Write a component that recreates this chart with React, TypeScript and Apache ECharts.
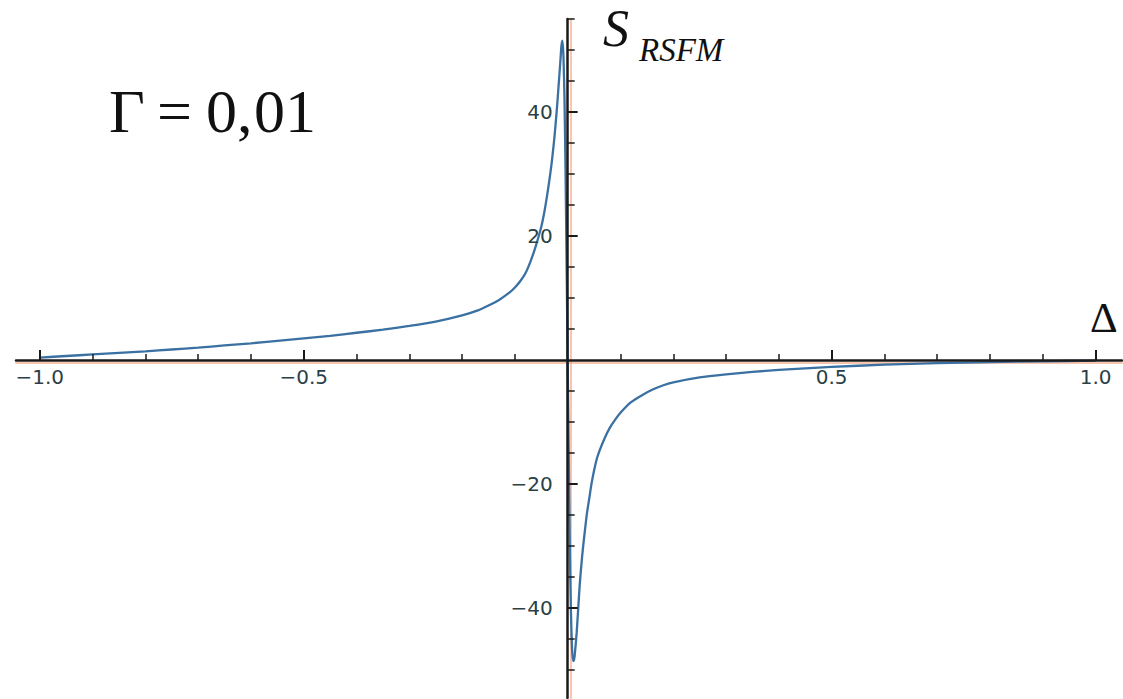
import React, { useEffect, useRef } from "react";
import * as echarts from "echarts";

// Detuning Δ and response S_RSFM for Γ = 0,01
const deltaLeft = [
  -1.0, -0.95, -0.9, -0.85, -0.8, -0.75, -0.7, -0.65, -0.6, -0.55, -0.5, -0.45,
  -0.4, -0.35, -0.3, -0.25, -0.2, -0.17, -0.15, -0.13, -0.11, -0.1, -0.09, -0.08,
  -0.07, -0.06, -0.05, -0.045, -0.04, -0.035, -0.03, -0.025, -0.02, -0.017,
  -0.014, -0.012, -0.01, -0.008, -0.006, -0.004, -0.002, 0,
];
const sLeft = [
  0.4, 0.65, 0.9, 1.15, 1.4, 1.7, 2.0, 2.35, 2.7, 3.1, 3.5, 3.9,
  4.4, 4.9, 5.5, 6.2, 7.2, 8.0, 8.8, 9.7, 10.9, 11.7, 12.7, 14.0,
  16.0, 18.5, 21.5, 23.5, 26, 28.8, 32, 36, 41, 44.5,
  48, 50.5, 51.5, 49, 42, 30, 15, 0,
];
const deltaRight = [
  0.002, 0.004, 0.006, 0.008, 0.01, 0.012, 0.014, 0.017, 0.02, 0.023, 0.027,
  0.03, 0.036, 0.04, 0.045, 0.05, 0.055, 0.06, 0.07, 0.08, 0.09, 0.1, 0.12,
  0.14, 0.16, 0.18, 0.2, 0.25, 0.3, 0.35, 0.4, 0.45, 0.5, 0.6, 0.7, 0.8, 0.9, 1.0,
];
const sRight = [
  -15, -30, -40, -46, -48.5, -48.5, -47, -44, -40, -36, -32,
  -29.5, -25, -22.8, -20, -17.8, -16, -14.7, -12.6, -10.9, -9.6, -8.5, -6.8,
  -5.7, -4.8, -4.1, -3.6, -2.8, -2.3, -1.9, -1.6, -1.35, -1.1, -0.75, -0.5, -0.32, -0.2, -0.1,
];

// Axis ranges and tick positions
const xRange = [-1.045, 1.05];
const yRange = [-54.5, 55];
const xMajorTicks = [-1.0, -0.5, 0.5, 1.0];
const xMinorTicks = [
  -0.9, -0.8, -0.7, -0.6, -0.4, -0.3, -0.2, -0.1,
  0.1, 0.2, 0.3, 0.4, 0.6, 0.7, 0.8, 0.9,
];
const yMajorTicks = [-40, -20, 20, 40];
const yMinorTicks = [-50, -45, -35, -30, -25, -15, -10, -5, 5, 10, 15, 25, 30, 35, 45, 50, 55];

const fmt = (v: number, digits: number) => v.toFixed(digits).replace("-", "\u2212");

export default function App() {
  const ref = useRef<HTMLDivElement>(null);

  useEffect(() => {
    if (!ref.current) return;
    const chart = echarts.init(ref.current, undefined, { renderer: "svg" });

    const points: [number, number][] = [];
    deltaLeft.forEach((d, i) => points.push([d, sLeft[i]]));
    deltaRight.forEach((d, i) => points.push([d, sRight[i]]));

    // Plot area geometry; the axes cross at the origin
    const plotLeft = 16;
    const plotWidth = 1106;
    const plotTop = 19;
    const plotHeight = 679;
    const zeroX = plotLeft + ((0 - xRange[0]) / (xRange[1] - xRange[0])) * plotWidth;
    const zeroY = plotTop + ((yRange[1] - 0) / (yRange[1] - yRange[0])) * plotHeight;

    const axisColor = "#1a1a1a";
    const haloColor = "rgba(242,150,110,0.55)";
    const labelStyle = {
      color: "#2a4046",
      fontFamily: "DejaVu Sans",
      fontSize: 20,
    };
    const serif = "Liberation Serif";
    const hidden = { show: false, axisLine: { onZero: false } };
    const noSplit = { splitLine: { show: false } };

    chart.setOption({
      animation: false,
      backgroundColor: "#ffffff",
      grid: [
        // data area
        { left: plotLeft, width: plotWidth, top: plotTop, height: plotHeight, outerBoundsMode: "none" },
        // horizontal axis, bottom edge on S = 0
        { left: plotLeft, width: plotWidth, top: plotTop, height: zeroY - plotTop, outerBoundsMode: "none" },
        // vertical axis, left edge on Δ = 0
        { left: zeroX, width: plotLeft + plotWidth - zeroX, top: plotTop, height: plotHeight, outerBoundsMode: "none" },
      ],
      xAxis: [
        { type: "value", gridIndex: 0, min: xRange[0], max: xRange[1], ...hidden },
        // faint warm fringe just under the axis line
        {
          type: "value",
          gridIndex: 1,
          min: xRange[0],
          max: xRange[1],
          position: "bottom",
          offset: 3,
          z: 0,
          axisLine: { show: true, onZero: false, lineStyle: { color: haloColor, width: 2 } },
          axisTick: { show: false },
          axisLabel: { show: false },
          ...noSplit,
        },
        {
          type: "value",
          gridIndex: 1,
          min: xRange[0],
          max: xRange[1],
          position: "bottom",
          z: 4,
          axisLine: { show: true, onZero: false, lineStyle: { color: axisColor, width: 2.5 } },
          axisTick: {
            show: true,
            inside: true,
            length: 10,
            customValues: xMajorTicks,
            lineStyle: { color: axisColor, width: 2 },
          },
          axisLabel: {
            ...labelStyle,
            customValues: xMajorTicks,
            margin: 7,
            formatter: (v: number) => fmt(v, 1),
          },
          ...noSplit,
        },
        {
          type: "value",
          gridIndex: 1,
          min: xRange[0],
          max: xRange[1],
          position: "bottom",
          z: 4,
          axisLine: { show: false, onZero: false },
          axisTick: {
            show: true,
            inside: true,
            length: 6,
            customValues: xMinorTicks,
            lineStyle: { color: axisColor, width: 1.5 },
          },
          axisLabel: { show: false },
          ...noSplit,
        },
        { type: "value", gridIndex: 2, min: 0, max: 1, ...hidden },
      ],
      yAxis: [
        { type: "value", gridIndex: 0, min: yRange[0], max: yRange[1], ...hidden },
        { type: "value", gridIndex: 1, min: 0, max: 1, ...hidden },
        // faint warm fringe right of the axis line
        {
          type: "value",
          gridIndex: 2,
          min: yRange[0],
          max: yRange[1],
          position: "left",
          offset: -3,
          z: 0,
          axisLine: { show: true, onZero: false, lineStyle: { color: haloColor, width: 2 } },
          axisTick: { show: false },
          axisLabel: { show: false },
          ...noSplit,
        },
        {
          type: "value",
          gridIndex: 2,
          min: yRange[0],
          max: yRange[1],
          position: "left",
          z: 4,
          axisLine: { show: true, onZero: false, lineStyle: { color: axisColor, width: 2.5 } },
          axisTick: {
            show: true,
            inside: true,
            length: 10,
            customValues: yMajorTicks,
            lineStyle: { color: axisColor, width: 2 },
          },
          axisLabel: {
            ...labelStyle,
            customValues: yMajorTicks,
            margin: 15,
            formatter: (v: number) => fmt(v, 0),
          },
          ...noSplit,
        },
        {
          type: "value",
          gridIndex: 2,
          min: yRange[0],
          max: yRange[1],
          position: "left",
          z: 4,
          axisLine: { show: false, onZero: false },
          axisTick: {
            show: true,
            inside: true,
            length: 7,
            customValues: yMinorTicks,
            lineStyle: { color: axisColor, width: 1.5 },
          },
          axisLabel: { show: false },
          ...noSplit,
        },
      ],
      series: [
        {
          type: "line",
          xAxisIndex: 0,
          yAxisIndex: 0,
          data: points,
          showSymbol: false,
          smooth: 0.2,
          lineStyle: { color: "#3a70a2", width: 2.3 },
          z: 2,
        },
      ],
      graphic: [
        {
          type: "text",
          left: 109,
          top: 80,
          style: { text: "\u0393", font: `62px "${serif}"`, fill: "#111" },
        },
        {
          type: "text",
          left: 157,
          top: 80,
          style: { text: "=", font: `62px "${serif}"`, fill: "#111" },
        },
        {
          type: "text",
          left: 206,
          top: 80,
          style: { text: "0,", font: `62px "${serif}"`, fill: "#111" },
        },
        {
          type: "text",
          left: 254,
          top: 80,
          style: { text: "01", font: `62px "${serif}"`, fill: "#111" },
        },
        {
          type: "text",
          left: 603,
          top: 2,
          style: { text: "S", font: `italic 52px "${serif}"`, fill: "#111" },
        },
        {
          type: "text",
          left: 639,
          top: 33,
          style: { text: "RSFM", font: `italic 33px "${serif}"`, fill: "#111" },
        },
        {
          type: "text",
          left: 1090,
          top: 296,
          style: { text: "\u0394", font: `43px "${serif}"`, fill: "#111" },
        },
      ],
    });

    return () => chart.dispose();
  }, []);

  return (
    <div
      ref={ref}
      style={{ position: "fixed", left: 0, top: 0, width: 1123, height: 699 }}
    />
  );
}
